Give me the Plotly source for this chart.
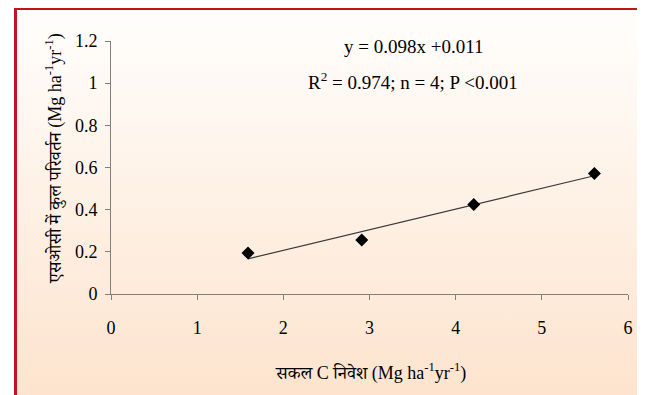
import base64
import plotly.graph_objects as go

# ---- data ----
c_input = [1.59, 2.91, 4.21, 5.61]          # सकल C निवेश (Mg ha-1 yr-1)
soc_change = [0.194, 0.256, 0.425, 0.572]   # एसओसी में कुल परिवर्तन
fit_slope = [0.098]
fit_intercept = [0.011]
x_ticks = [0, 1, 2, 3, 4, 5, 6]
y_ticks = [0, 0.2, 0.4, 0.6, 0.8, 1, 1.2]
eq_text = ["y = 0.098x +0.011", "R<sup>2</sup> = 0.974; n = 4; P <0.001"]

# ---- layout geometry (pixels in the screenshot) ----
OFF_X, OFF_Y = 8, 7          # page body offset
W, H = 645 - OFF_X, 395 - OFF_Y
L, R, T, B = 111, 628, 40, 293.5
pw, ph = R - L, B - T


def px(x):
    return (x - L) / pw


def py(y):
    return (B - y) / ph


fit_x = [min(c_input), max(c_input)]
fit_y = [fit_slope[0] * v + fit_intercept[0] for v in fit_x]

fig = go.Figure()
fig.add_trace(go.Scatter(x=fit_x, y=fit_y, mode="lines",
                         line=dict(color="#3a3a3a", width=1.2), hoverinfo="skip"))
fig.add_trace(go.Scatter(x=c_input, y=soc_change, mode="markers",
                         marker=dict(symbol="diamond", size=10, color="black")))

svg = ('<svg xmlns="http://www.w3.org/2000/svg" viewBox="0 0 100 100" '
       'preserveAspectRatio="none" width="100" height="100">'
       '<defs><linearGradient id="g" x1="0" y1="0" x2="0" y2="1">'
       '<stop offset="0" stop-color="#fffefd"/>'
       '<stop offset="1" stop-color="#fde3cc"/></linearGradient></defs>'
       '<rect width="100" height="100" fill="url(#g)"/></svg>')
src = "data:image/svg+xml;base64," + base64.b64encode(svg.encode()).decode()

serif = "Liberation Serif"
hindi = "Liberation Serif, Noto Serif Devanagari, Noto Sans Devanagari, serif"

axis_common = dict(showline=True, linecolor="#7f7f7f", linewidth=1,
                   ticks="outside", ticklen=5, tickcolor="#7f7f7f",
                   showgrid=False, zeroline=False,
                   tickfont=dict(family=serif, size=18, color="black"))


def ann(text, x, y, size, family=serif, angle=0):
    return dict(text=text, xref="paper", yref="paper", x=px(x), y=py(y),
                xanchor="center", yanchor="middle", textangle=angle,
                showarrow=False, font=dict(family=family, size=size, color="black"))


fig.update_layout(
    width=W, height=H,
    font=dict(family=serif, size=18, color="black"),
    margin=dict(l=L - OFF_X, r=645 - R, t=T - OFF_Y, b=395 - B, autoexpand=False),
    paper_bgcolor="white", plot_bgcolor="rgba(0,0,0,0)",
    showlegend=False,
    xaxis=dict(range=[0, 6], tickvals=x_ticks, ticktext=[str(v) for v in x_ticks],
               ticklabelstandoff=12, **axis_common),
    yaxis=dict(range=[0, 1.2], tickvals=y_ticks, ticktext=[f"{v:g}" for v in y_ticks],
               ticklabelstandoff=4, **axis_common),
    images=[dict(source=src, xref="paper", yref="paper",
                 x=px(15), y=py(7), sizex=(644 - 15) / pw, sizey=(405 - 7) / ph,
                 xanchor="left", yanchor="top", sizing="stretch", layer="below")],
    shapes=[dict(type="rect", xref="paper", yref="paper",
                 x0=px(15.5), x1=px(643.5), y0=py(410), y1=py(7.5),
                 line=dict(color="#c0141e", width=3), layer="above")],
    annotations=[
        ann(eq_text[0], 413, 46, 19),
        ann(eq_text[1], 413, 80, 19),
        ann("सकल C निवेश (Mg ha<sup>-1</sup>yr<sup>-1</sup>)", 370, 372, 18, hindi),
        ann("एसओसी में कुल परिवर्तन (Mg ha<sup>-1</sup>yr<sup>-1</sup>)", 54, 158, 18, hindi, -90),
    ],
)

fig.write_html("out.html")
